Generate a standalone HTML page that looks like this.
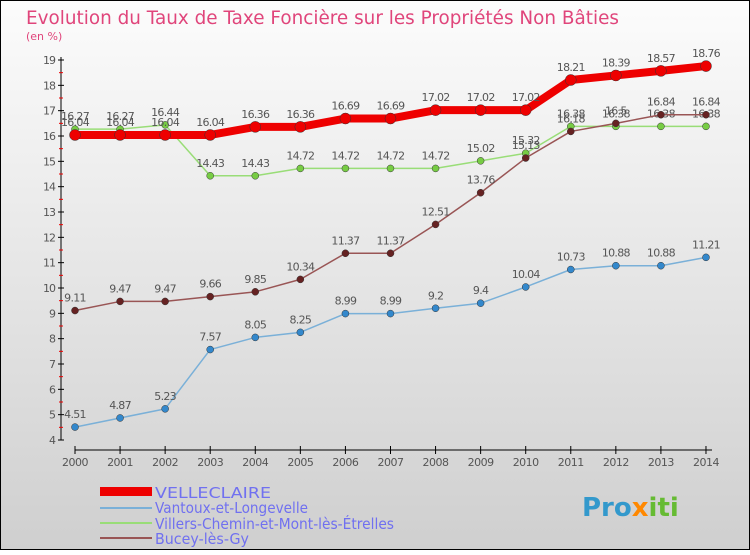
<!DOCTYPE html>
<html><head><meta charset="utf-8"><style>
body{margin:0}
svg text{font-family:"DejaVu Sans","Liberation Sans",sans-serif}
</style></head><body>
<svg width="750" height="550" xmlns="http://www.w3.org/2000/svg">
<defs><linearGradient id="bg" x1="0" y1="0" x2="0" y2="1"><stop offset="0" stop-color="#fcfcfc"/><stop offset="1" stop-color="#cfcfcf"/></linearGradient></defs>
<rect x="0.5" y="0.5" width="749" height="549" fill="url(#bg)" stroke="#000"/>
<text x="26" y="24" font-size="19" fill="#e0457b" textLength="593" lengthAdjust="spacingAndGlyphs">Evolution du Taux de Taxe Foncière sur les Propriétés Non Bâties</text>
<text x="26" y="40" font-size="11" fill="#e0457b">(en %)</text>
<g id="axes"></g><g id="series"></g>
<g>
<rect x="100" y="487" width="52" height="9" fill="#ee0000"/>
<text x="155" y="498" font-size="15" fill="#7070f0" textLength="116" lengthAdjust="spacingAndGlyphs">VELLECLAIRE</text>
<line x1="100" y1="508" x2="152" y2="508" stroke="#7ab0d8" stroke-width="2"/>
<text x="155" y="513" font-size="15" fill="#7070f0" textLength="153" lengthAdjust="spacingAndGlyphs">Vantoux-et-Longevelle</text>
<line x1="100" y1="523" x2="152" y2="523" stroke="#99dd77" stroke-width="2"/>
<text x="155" y="529" font-size="15" fill="#7070f0" textLength="239" lengthAdjust="spacingAndGlyphs">Villers-Chemin-et-Mont-lès-Étrelles</text>
<line x1="100" y1="538" x2="152" y2="538" stroke="#995555" stroke-width="2"/>
<text x="155" y="544" font-size="15" fill="#7070f0" textLength="94" lengthAdjust="spacingAndGlyphs">Bucey-lès-Gy</text>
</g>
<g><text x="582" y="516" font-size="26" font-weight="bold" fill="#3399cc">Pro<tspan fill="#ff8800">x</tspan><tspan fill="#66bb33">iti</tspan></text></g>
</svg>
<script>
const years=[2000,2001,2002,2003,2004,2005,2006,2007,2008,2009,2010,2011,2012,2013,2014];
const yTicks=[4,5,6,7,8,9,10,11,12,13,14,15,16,17,18,19];
const velleclaire=[16.04,16.04,16.04,16.04,16.36,16.36,16.69,16.69,17.02,17.02,17.02,18.21,18.39,18.57,18.76];
const vantoux=[4.51,4.87,5.23,7.57,8.05,8.25,8.99,8.99,9.2,9.4,10.04,10.73,10.88,10.88,11.21];
const villers=[16.27,16.27,16.44,14.43,14.43,14.72,14.72,14.72,14.72,15.02,15.32,16.38,16.38,16.38,16.38];
const bucey=[9.11,9.47,9.47,9.66,9.85,10.34,11.37,11.37,12.51,13.76,15.13,16.18,16.5,16.84,16.84];
const NS="http://www.w3.org/2000/svg";
const X=i=>75+i*45.07, Y=v=>440-(v-4)*(380/15);
function mk(t,a,p){const e=document.createElementNS(NS,t);for(const k in a)e.setAttribute(k,a[k]);p.appendChild(e);return e;}
const ax=document.getElementById('axes');
const ya=mk('line',{x1:61,y1:57,x2:61,y2:440,stroke:'#000'},ax);

yTicks.forEach(v=>{mk('line',{x1:58,x2:64,y1:Y(v),y2:Y(v),stroke:'#000'},ax);
 if(v<19)mk('line',{x1:59,x2:63,y1:Y(v+0.5),y2:Y(v+0.5),stroke:'#e00'},ax);
 const t=mk('text',{x:55,y:Y(v)+4,'font-size':11,fill:'#555','text-anchor':'end','letter-spacing':'-1'},ax);t.textContent=v;
 });
const xa=mk('line',{x1:75,y1:450,x2:712,y2:450,stroke:'#000'},ax);

years.forEach((y,i)=>{mk('line',{x1:X(i),x2:X(i),y1:446,y2:454,stroke:'#000'},ax);
 const t=mk('text',{x:X(i),y:466,'font-size':11,fill:'#555','text-anchor':'middle','letter-spacing':'-0.5'},ax);t.textContent=y;
 });
const sg=document.getElementById('series');
function series(name,data,color,w,r,pc){
 const g=mk('g',{},sg);
 mk('polyline',{points:data.map((v,i)=>X(i)+','+Y(v)).join(' '),fill:'none',stroke:color,'stroke-width':w,'stroke-linejoin':'round'},g);
 data.forEach((v,i)=>{const c=mk('circle',{cx:X(i),cy:Y(v),r:r,fill:pc,stroke:'#333','stroke-width':0.5},g);
  
  const t=mk('text',{x:X(i),y:Y(v)-9,'font-size':11,fill:'#555','text-anchor':'middle','letter-spacing':'-0.7'},g);t.textContent=v;});
}
series('series-villers',villers,'#99dd77',1.5,3.5,'#77cc44');
series('series-bucey',bucey,'#995555',1.5,3.5,'#662222');
series('series-vantoux',vantoux,'#7ab0d8',1.5,3.5,'#3388cc');
series('series-velleclaire',velleclaire,'#ee0000',8,5.5,'#ee0000');
</script>
</body></html>
